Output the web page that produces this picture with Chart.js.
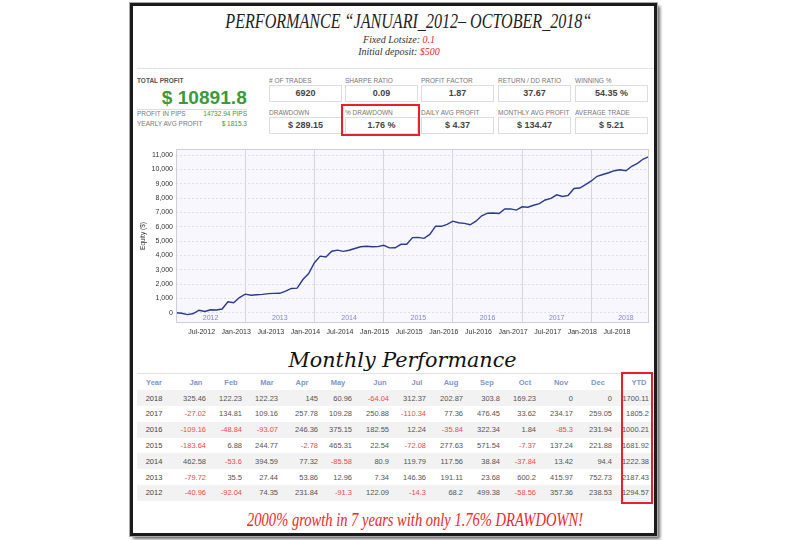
<!DOCTYPE html>
<html>
<head>
<meta charset="utf-8">
<script src="https://cdn.jsdelivr.net/npm/chart.js@4.4.0/dist/chart.umd.min.js"></script>
<style>
body { margin:0; width:800px; height:540px; background:#fff; position:relative; overflow:hidden; font-family:"Liberation Sans", Arial, sans-serif; }
.abs { position:absolute; white-space:nowrap; line-height:1; }
.frame { position:absolute; left:130px; top:3px; width:527px; height:533px; box-sizing:border-box; border:3px solid #1b1b1b; outline:1px solid #aaa; box-shadow:3px 3px 3px rgba(0,0,0,0.6); }
.hr { position:absolute; height:1px; background:#e2e2e2; }
.serif { font-family:"Liberation Serif", serif; font-style:italic; }
.center { text-align:center; width:800px; }
.lbl { font-size:6.5px; color:#777; }
.box { position:absolute; width:73px; height:17px; box-sizing:border-box; border:1px solid #ddd; font-size:9px; font-weight:bold; color:#444; text-align:center; line-height:15px; }
.fit { display:inline-block; transform-origin:50% 50%; }
.red { color:#f0262b; }
.green { color:#3b9a3b; }
.cell { position:absolute; font-size:7.5px; color:#555; line-height:1; white-space:nowrap; }
</style>
</head>
<body>
<div class="frame"></div>

<div class="abs serif center" style="left:8px;top:10px;font-size:22px;color:#222"><span class="fit" id="title">PERFORMANCE “JANUARI_2012– OCTOBER_2018“</span></div>
<div class="abs serif center" style="left:-1px;top:35px;font-size:10px;color:#333">Fixed Lotsize: <span class="red">0.1</span></div>
<div class="abs serif center" style="left:-1px;top:47px;font-size:10px;color:#333">Initial deposit: <span class="red">$500</span></div>
<div class="hr" style="left:137px;top:68px;width:517px"></div>

<!-- totals block -->
<div class="abs" style="left:137px;top:78px;font-size:6.5px;font-weight:bold;color:#555">TOTAL PROFIT</div>
<div class="abs green" style="left:162px;top:88px;font-size:19px;font-weight:bold"><span class="fit" id="bigProfit">$ 10891.8</span></div>
<div class="hr" style="left:137px;top:109px;width:110px;background:#ddd"></div>
<div class="abs lbl" style="left:137px;top:111px">PROFIT IN PIPS</div>
<div class="abs lbl green" style="left:197px;top:111px;width:50px;text-align:right">14732.94 PIPS</div>
<div class="abs lbl" style="left:137px;top:121px">YEARLY AVG PROFIT</div>
<div class="abs lbl green" style="left:197px;top:121px;width:50px;text-align:right">$ 1815.3</div>

<!-- stat boxes -->
<div class="abs lbl" style="left:269px;top:78px"># OF TRADES</div>
<div class="abs lbl" style="left:345px;top:78px">SHARPE RATIO</div>
<div class="abs lbl" style="left:421px;top:78px">PROFIT FACTOR</div>
<div class="abs lbl" style="left:498px;top:78px">RETURN / DD RATIO</div>
<div class="abs lbl" style="left:575px;top:78px">WINNING %</div>
<div class="box" style="left:269px;top:85px">6920</div>
<div class="box" style="left:345px;top:85px">0.09</div>
<div class="box" style="left:421px;top:85px">1.87</div>
<div class="box" style="left:498px;top:85px">37.67</div>
<div class="box" style="left:575px;top:85px">54.35 %</div>

<div class="abs lbl" style="left:269px;top:110px">DRAWDOWN</div>
<div class="abs lbl" style="left:345px;top:110px">% DRAWDOWN</div>
<div class="abs lbl" style="left:421px;top:110px">DAILY AVG PROFIT</div>
<div class="abs lbl" style="left:498px;top:110px">MONTHLY AVG PROFIT</div>
<div class="abs lbl" style="left:575px;top:110px">AVERAGE TRADE</div>
<div class="box" style="left:269px;top:117px">$ 289.15</div>
<div class="box" style="left:345px;top:117px">1.76 %</div>
<div class="box" style="left:421px;top:117px">$ 4.37</div>
<div class="box" style="left:498px;top:117px">$ 134.47</div>
<div class="box" style="left:575px;top:117px">$ 5.21</div>
<div style="position:absolute;left:341px;top:104px;width:79px;height:32px;box-sizing:border-box;border:2px solid #e8202a"></div>

<!-- equity chart -->
<div style="position:absolute;left:133px;top:140px;width:522px;height:200px">
  <canvas id="equityChart" width="522" height="200"></canvas>
</div>

<div class="abs center" style="left:3px;top:350px;font-size:21px;font-family:'DejaVu Serif',serif;font-style:italic;color:#111"><span class="fit" id="monthlyTitle">Monthly Performance</span></div>
<div class="hr" style="left:137px;top:373px;width:517px"></div>

<div id="table"></div>
<div style="position:absolute;left:621px;top:372px;width:32px;height:132px;box-sizing:border-box;border:2px solid #e8202a"></div>

<div class="abs serif center red" style="left:15px;top:511px;font-size:18px"><span class="fit" id="footer">2000% growth in 7 years with only 1.76% DRAWDOWN!</span></div>

<script>
// equity at each month end, Jan-2012 start .. Oct-2018
const equity = [0,
    -41, -133, -59, 173, 82, 204, 190, 258, 757, 699, 1056, 1295,
    1215, 1250, 1278, 1332, 1345, 1352, 1498, 1689, 1713, 2313, 2729, 3482,
    3945, 3891, 4286, 4363, 4277, 4358, 4478, 4596, 4634, 4597, 4610, 4704,
    4521, 4528, 4772, 4770, 5235, 5257, 5185, 5463, 6035, 6027, 6164, 6386,
    6277, 6228, 6135, 6382, 6757, 6939, 6952, 6916, 7238, 7240, 7155, 7387,
    7360, 7494, 7603, 7861, 7971, 8221, 8111, 8188, 8665, 8699, 8933, 9192,
    9517, 9639, 9762, 9907, 9968, 9904, 10216, 10419, 10723, 10892];
const xTickMonths = [6, 12, 18, 24, 30, 36, 42, 48, 54, 60, 66, 72, 78];
const xTickLabels = ['Jul-2012', 'Jan-2013', 'Jul-2013', 'Jan-2014', 'Jul-2014', 'Jan-2015', 'Jul-2015',
    'Jan-2016', 'Jul-2016', 'Jan-2017', 'Jul-2017', 'Jan-2018', 'Jul-2018'];
const yTicks = [0, 1000, 2000, 3000, 4000, 5000, 6000, 7000, 8000, 9000, 10000, 11000];
const yearLabels = ['2012', '2013', '2014', '2015', '2016', '2017', '2018'];

// monthly performance table
const monthNames = ['Jan', 'Feb', 'Mar', 'Apr', 'May', 'Jun', 'Jul', 'Aug', 'Sep', 'Oct', 'Nov', 'Dec'];
const tableYears = ['2018', '2017', '2016', '2015', '2014', '2013', '2012'];
const row2018 = [325.46, 122.23, 122.23, 145, 60.96, -64.04, 312.37, 202.87, 303.8, 169.23, 0, 0];
const row2017 = [-27.02, 134.81, 109.16, 257.78, 109.28, 250.88, -110.34, 77.36, 476.45, 33.62, 234.17, 259.05];
const row2016 = [-109.16, -48.84, -93.07, 246.36, 375.15, 182.55, 12.24, -35.84, 322.34, 1.84, -85.3, 231.94];
const row2015 = [-183.64, 6.88, 244.77, -2.78, 465.31, 22.54, -72.08, 277.63, 571.54, -7.37, 137.24, 221.88];
const row2014 = [462.58, -53.6, 394.59, 77.32, -85.58, 80.9, 119.79, 117.56, 38.84, -37.84, 13.42, 94.4];
const row2013 = [-79.72, 35.5, 27.44, 53.86, 12.96, 7.34, 146.36, 191.11, 23.68, 600.2, 415.97, 752.73];
const row2012 = [-40.96, -92.04, 74.35, 231.84, -91.3, 122.09, -14.3, 68.2, 499.38, -58.56, 357.36, 238.53];
const ytd = [1700.11, 1805.2, 1000.21, 1681.92, 1222.38, 2187.43, 1294.57];

// build the table (header centres and value right edges in page px)
const tableRows = [row2018, row2017, row2016, row2015, row2014, row2013, row2012];
const headCenters = [154, 196, 231, 267, 302, 338, 380, 417, 451, 487, 525, 561, 598, 639];
const valueRights = [206, 242, 278, 318, 352, 389, 426, 463, 500, 536, 573, 612, 649];
const table = document.getElementById('table');

function addCell(text, left, top, width, align, color, bold) {
    const d = document.createElement('div');
    d.className = 'cell';
    d.textContent = text;
    d.style.left = left + 'px';
    d.style.top = top + 'px';
    d.style.width = width + 'px';
    d.style.textAlign = align;
    if (color) d.style.color = color;
    if (bold) d.style.fontWeight = 'bold';
    table.appendChild(d);
}

const headers = ['Year'].concat(monthNames, ['YTD']);
headers.forEach((h, i) => addCell(h, headCenters[i] - 20, 379, 40, 'center', '#7d97c8', true));

tableRows.forEach((row, r) => {
    const top = 390 + r * 15.8;
    if (r % 2 === 0) {
        const band = document.createElement('div');
        band.style.cssText = 'position:absolute;left:137px;width:517px;height:16px;background:#f2f2f2;top:' + top + 'px';
        table.appendChild(band);
    }
    const ty = top + 4.5;
    addCell(tableYears[r], headCenters[0] - 20, ty, 40, 'center', '#444');
    row.forEach((v, i) => {
        addCell(String(v), valueRights[i] - 50, ty, 50, 'right', v < 0 ? '#f04a4a' : '#555');
    });
    addCell(String(ytd[r]), valueRights[12] - 50, ty, 50, 'right', '#555');
});

// squeeze headline texts to their measured widths
function fit(id, w) {
    const el = document.getElementById(id);
    el.style.transform = 'scaleX(' + (w / el.getBoundingClientRect().width) + ')';
}
fit('title', 366);
fit('bigProfit', 85);
fit('monthlyTitle', 228);
fit('footer', 336);

// plot background, frame and year labels
const plotDecor = {
    id: 'plotDecor',
    beforeDraw(chart) {
        const a = chart.chartArea, ctx = chart.ctx;
        ctx.save();
        ctx.fillStyle = '#f7f7fd';
        ctx.fillRect(a.left, a.top, a.right - a.left, a.bottom - a.top);
        ctx.restore();
    },
    afterDatasetsDraw(chart) {
        const a = chart.chartArea, ctx = chart.ctx, x = chart.scales.x;
        ctx.save();
        ctx.strokeStyle = '#cfcfd8';
        ctx.lineWidth = 1;
        ctx.strokeRect(a.left + 0.5, a.top + 0.5, a.right - a.left - 1, a.bottom - a.top - 1);
        ctx.fillStyle = '#8288cc';
        ctx.font = '7px "Liberation Sans", Arial';
        ctx.textAlign = 'center';
        ctx.textBaseline = 'middle';
        yearLabels.forEach((y, i) => ctx.fillText(y, x.getPixelForValue(i * 12 + 6), a.bottom - 5));
        ctx.restore();
    }
};

const ctx = document.getElementById('equityChart').getContext('2d');
new Chart(ctx, {
    type: 'line',
    data: {
        datasets: [{
            data: equity.map((v, i) => ({ x: i, y: v })),
            borderColor: '#2b3990',
            borderWidth: 1.4,
            pointRadius: 0,
            tension: 0,
            fill: false
        }]
    },
    options: {
        responsive: false,
        animation: false,
        layout: { padding: { top: 9, right: 6, left: 0, bottom: 0 } },
        plugins: { legend: { display: false }, tooltip: { enabled: false } },
        scales: {
            x: {
                type: 'linear',
                min: 0,
                max: 82,
                afterBuildTicks: (axis) => { axis.ticks = xTickMonths.map(v => ({ value: v })); },
                afterFit: (scale) => { scale.height = 17; },
                ticks: {
                    autoSkip: false,
                    maxRotation: 0,
                    labelOffset: -9,
                    padding: 5,
                    color: '#333',
                    font: { size: 7, family: '"Liberation Sans", Arial' },
                    callback: (v) => xTickLabels[xTickMonths.indexOf(v)]
                },
                grid: {
                    drawTicks: false,
                    color: (c) => (c.tick && c.tick.value % 12 === 0) ? '#d6d6de' : 'rgba(0,0,0,0)'
                },
                border: { display: false }
            },
            y: {
                type: 'linear',
                min: -720,
                max: 11420,
                afterBuildTicks: (axis) => { axis.ticks = yTicks.map(v => ({ value: v })); },
                afterFit: (scale) => { scale.width = 43; },
                ticks: {
                    autoSkip: false,
                    padding: 3,
                    color: '#333',
                    font: { size: 7, family: '"Liberation Sans", Arial' },
                    callback: (v) => v.toLocaleString('en-US')
                },
                title: {
                    display: true,
                    text: 'Equity ($)',
                    color: '#333',
                    font: { size: 6.5, family: '"Liberation Sans", Arial' },
                    padding: { top: 6, bottom: 0 }
                },
                grid: { drawTicks: false, color: '#dedee6' },
                border: { display: false, dash: [2, 2] }
            }
        }
    },
    plugins: [plotDecor]
});
</script>
</body>
</html>
